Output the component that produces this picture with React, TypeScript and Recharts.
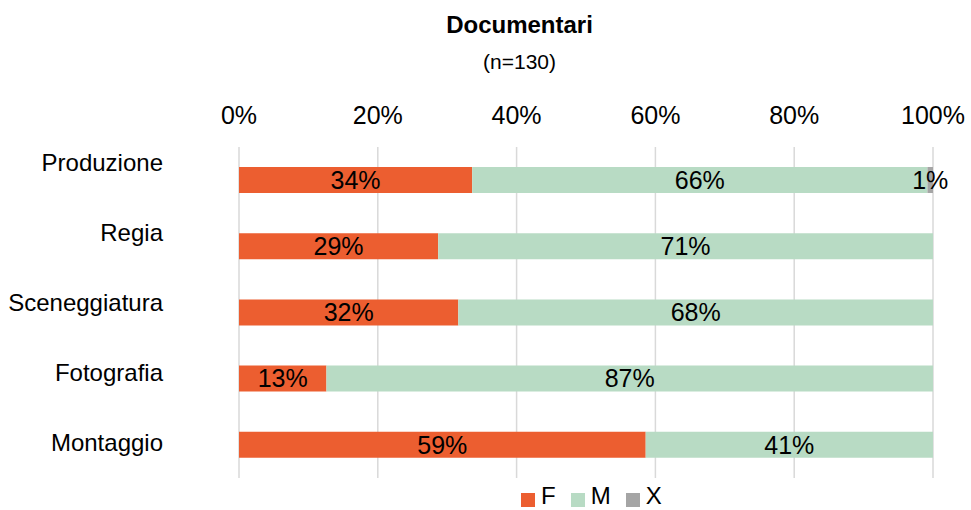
import React from 'react';
import { BarChart, Bar, XAxis, YAxis, CartesianGrid, LabelList } from 'recharts';

const categories = ['Produzione', 'Regia', 'Sceneggiatura', 'Fotografia', 'Montaggio'];
const femaleValues = [33.6, 28.7, 31.6, 12.6, 58.6];
const maleValues = [65.6, 71.3, 68.4, 87.4, 41.4];
const otherValues: (number | null)[] = [0.8, null, null, null, null];
const xTicks = [0, 20, 40, 60, 80, 100];
const seriesNames = ['F', 'M', 'X'];
const seriesColors = ['#EC5E30', '#B8DBC4', '#A5A5A5'];
const title = 'Documentari';
const subtitle = '(n=130)';

const data = categories.map((name, i) => ({
  name,
  F: femaleValues[i],
  M: maleValues[i],
  X: otherValues[i],
}));

const fmt = (v: any) => (v == null || v === 0 ? '' : `${Math.round(Number(v))}%`);

export default function App() {
  const font = '"Liberation Sans", Arial, sans-serif';
  return (
    <div
      style={{
        position: 'absolute',
        left: 0,
        top: 0,
        width: 971,
        height: 510,
        overflow: 'hidden',
        background: '#fff',
        fontFamily: font,
        color: '#000',
      }}
    >
      <div
        style={{
          position: 'absolute',
          left: 519.5,
          top: 12.5,
          transform: 'translateX(-50%)',
          fontSize: 24,
          lineHeight: '24px',
          fontWeight: 'bold',
          whiteSpace: 'nowrap',
        }}
      >
        {title}
      </div>
      <div
        style={{
          position: 'absolute',
          left: 519.5,
          top: 50.5,
          transform: 'translateX(-50%)',
          fontSize: 21,
          lineHeight: '21px',
          whiteSpace: 'nowrap',
        }}
      >
        {subtitle}
      </div>
      <BarChart
        width={971}
        height={510}
        data={data}
        layout="vertical"
        margin={{ top: 117, right: 38, bottom: 32, left: 0 }}
        style={{ fontFamily: font }}
      >
        <CartesianGrid horizontal={false} stroke="#D9D9D9" strokeWidth={1.5} yAxisId="bars" />
        <XAxis
          type="number"
          orientation="top"
          domain={[0, 100]}
          ticks={xTicks}
          interval={0}
          tickFormatter={(v) => `${v}%`}
          axisLine={false}
          tickLine={false}
          tickMargin={17}
          tick={{ fontSize: 25, fill: '#000' }}
        />
        <YAxis
          yAxisId="labels"
          type="category"
          dataKey="name"
          width={239}
          axisLine={false}
          tickLine={false}
          tickMargin={70}
          interval={0}
          padding={{ top: -19, bottom: 1 }}
          tick={{ fontSize: 24, fill: '#000' }}
        />
        <YAxis yAxisId="bars" type="category" dataKey="name" hide width={0} />
        {seriesNames.map((s, i) => (
          <Bar
            key={s}
            dataKey={s}
            stackId="a"
            yAxisId="bars"
            barSize={26}
            fill={seriesColors[i]}
            isAnimationActive={false}
          >
            <LabelList dataKey={s} position="center" formatter={fmt} style={{ fontSize: 25, fill: '#000' }} />
          </Bar>
        ))}
      </BarChart>
      <div
        style={{
          position: 'absolute',
          left: 521,
          top: 486,
          height: 20,
          display: 'flex',
          alignItems: 'center',
          fontSize: 24,
          lineHeight: '20px',
          whiteSpace: 'nowrap',
        }}
      >
        {seriesNames.map((s, i) => (
          <div key={s} style={{ display: 'flex', alignItems: 'center', marginRight: 15 }}>
            <div style={{ width: 14, height: 14, background: seriesColors[i], marginRight: 6, marginTop: 8 }} />
            <span>{s}</span>
          </div>
        ))}
      </div>
    </div>
  );
}
